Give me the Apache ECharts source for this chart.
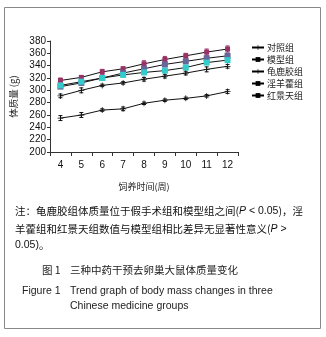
<!DOCTYPE html>
<html>
<head>
<meta charset="utf-8">
<script src="https://cdn.jsdelivr.net/npm/echarts@6/dist/echarts.min.js"></script>
<style>
  html, body { margin: 0; padding: 0; background: #fff; }
  #chart { width: 326px; height: 337px; }
</style>
</head>
<body>
<div id="chart"></div>
<script>
// 饲养时间(周)
var weeks = ['4', '5', '6', '7', '8', '9', '10', '11', '12'];
var groupNames = ['对照组', '模型组', '龟鹿胶组', '淫羊藿组', '红景天组'];

// 体质量 (g), 读自原图
var duizhao = [255, 260, 268, 270, 279, 284, 287, 291, 298];
var moxing = [316, 321, 330, 335, 343, 350, 356, 362, 367];
var guilujiao = [291, 300, 308, 312, 318, 323, 328, 334, 339];
var yinyanghuo = [306, 312, 320, 328, 335, 342, 347, 352, 356];
var hongjingtian = [308, 314, 320, 325, 329, 332, 337, 345, 349];

// 误差 (±)
var errDuizhao = [4, 4, 2, 3, 2, 2, 2, 2, 3];
var errMoxing = [4, 3, 4, 3, 5, 5, 4, 5, 5];
var errGuilujiao = [3, 4, 2, 2, 3, 3, 3, 4, 3];
var errYinyanghuo = [3, 3, 3, 3, 4, 4, 4, 4, 4];
var errHongjingtian = [3, 3, 3, 3, 3, 3, 3, 3, 3];

var plusPath = 'path://M0,3.5h8v1h-8zM3.5,0h1v8h-1z';
var cjk = 'Noto Sans CJK SC';

var chart = echarts.init(document.getElementById('chart'));

function lineSeries(name, data, color, symbol, size) {
    return {
        name: name,
        type: 'line',
        data: data,
        symbol: symbol,
        symbolSize: size,
        showAllSymbol: true,
        z: 3,
        lineStyle: { color: '#111', width: 1 },
        itemStyle: { color: color }
    }
}

function errSeries(data, err, color) {
    var items = data.map(function (v, i) { return [i, v - err[i], v + err[i]] })
    return {
        type: 'custom',
        z: 2,
        silent: true,
        data: items,
        renderItem: function (params, api) {
            var lo = api.coord([api.value(0), api.value(1)]);
            var hi = api.coord([api.value(0), api.value(2)]);
            var w = 2;
            var style = { stroke: color, lineWidth: 1 };
            return {
                type: 'group',
                children: [
                    { type: 'line', shape: { x1: lo[0], y1: lo[1], x2: hi[0], y2: hi[1] }, style: style },
                    { type: 'line', shape: { x1: lo[0] - w, y1: lo[1], x2: lo[0] + w, y2: lo[1] }, style: style },
                    { type: 'line', shape: { x1: hi[0] - w, y1: hi[1], x2: hi[0] + w, y2: hi[1] }, style: style }
                ]
            }
        }
    }
}

// 带斜体 P 的注释行
function noteLine(top, parts) {
    return {
        type: 'text', left: 15, top: top,
        style: {
            text: parts,
            fontSize: 10.5,
            fill: '#111',
            fontFamily: cjk,
            rich: {
                i: { fontStyle: 'italic', fontSize: 10.5, fontFamily: 'Liberation Sans', fill: '#111' },
                n: { fontSize: 10.5, fontFamily: 'Liberation Sans', fill: '#111' }
            }
        }
    }
}

chart.setOption({
    animation: false,
    textStyle: { fontFamily: 'Liberation Sans, Noto Sans CJK SC' },
    grid: { left: 50, right: 88, top: 41, bottom: 185 },
    legend: {
        orient: 'vertical',
        left: 246,
        top: 38,
        itemWidth: 12,
        itemHeight: 6,
        itemGap: 3,
        itemStyle: { color: '#000' },
        lineStyle: { color: '#000' },
        textStyle: { fontSize: 9, color: '#222', fontFamily: cjk, padding: [0, 0, 0, -2] },
        data: groupNames
    },
    xAxis: {
        type: 'category',
        data: weeks,
        boundaryGap: true,
        name: '饲养时间(周)',
        nameLocation: 'middle',
        nameGap: 30,
        nameTextStyle: { fontSize: 9, color: '#222', fontFamily: cjk },
        axisLine: { lineStyle: { color: '#333' } },
        axisTick: { show: true, length: 4, alignWithLabel: false },
        axisLabel: { fontSize: 10, color: '#111', margin: 8 }
    },
    yAxis: {
        type: 'value',
        min: 200,
        max: 380,
        interval: 20,
        name: '体质量 (g)',
        nameLocation: 'middle',
        nameRotate: 90,
        nameGap: 31,
        nameTextStyle: { fontSize: 9.5, color: '#222', fontFamily: cjk },
        axisLine: { show: true, lineStyle: { color: '#333' } },
        axisTick: { show: true, length: 3 },
        splitLine: { show: false },
        axisLabel: { fontSize: 10, color: '#111', margin: 4 }
    },
    series: [
        errSeries(duizhao, errDuizhao, '#111'),
        errSeries(moxing, errMoxing, '#993366'),
        errSeries(guilujiao, errGuilujiao, '#111'),
        errSeries(yinyanghuo, errYinyanghuo, '#666699'),
        errSeries(hongjingtian, errHongjingtian, '#33CCCC'),
        lineSeries('对照组', duizhao, '#111', plusPath, 6),
        lineSeries('模型组', moxing, '#993366', 'rect', 5),
        lineSeries('龟鹿胶组', guilujiao, '#111', plusPath, 6),
        lineSeries('淫羊藿组', yinyanghuo, '#666699', 'rect', 6),
        lineSeries('红景天组', hongjingtian, '#33CCCC', 'rect', 6)
    ],
    graphic: [
        {
            type: 'rect',
            shape: { x: 4.5, y: 7.5, width: 316, height: 321 },
            style: { fill: 'none', stroke: '#888', lineWidth: 1 },
            silent: true
        },
        noteLine(206, '注：龟鹿胶组体质量位于假手术组和模型组之间({i|P}{n| < 0.05})，淫'),
        noteLine(224, '羊藿组和红景天组数值与模型组相比差异无显著性意义({i|P}{n| >}'),
        noteLine(240, '{n|0.05)}。'),
        {
            type: 'text', left: 42, top: 265,
            style: { text: '图 1', fontSize: 10.5, fill: '#222', fontFamily: cjk }
        },
        {
            type: 'text', left: 70, top: 265,
            style: { text: '三种中药干预去卵巢大鼠体质量变化', fontSize: 10.5, fill: '#222', fontFamily: cjk }
        },
        {
            type: 'text', left: 22, top: 286,
            style: { text: 'Figure 1', fontSize: 10.5, fill: '#222', fontFamily: 'Liberation Sans' }
        },
        {
            type: 'text', left: 70, top: 286,
            style: { text: 'Trend graph of body mass changes in three', fontSize: 10.5, fill: '#222', fontFamily: 'Liberation Sans' }
        },
        {
            type: 'text', left: 70, top: 301,
            style: { text: 'Chinese medicine groups', fontSize: 10.5, fill: '#222', fontFamily: 'Liberation Sans' }
        }
    ]
});
</script>
</body>
</html>
